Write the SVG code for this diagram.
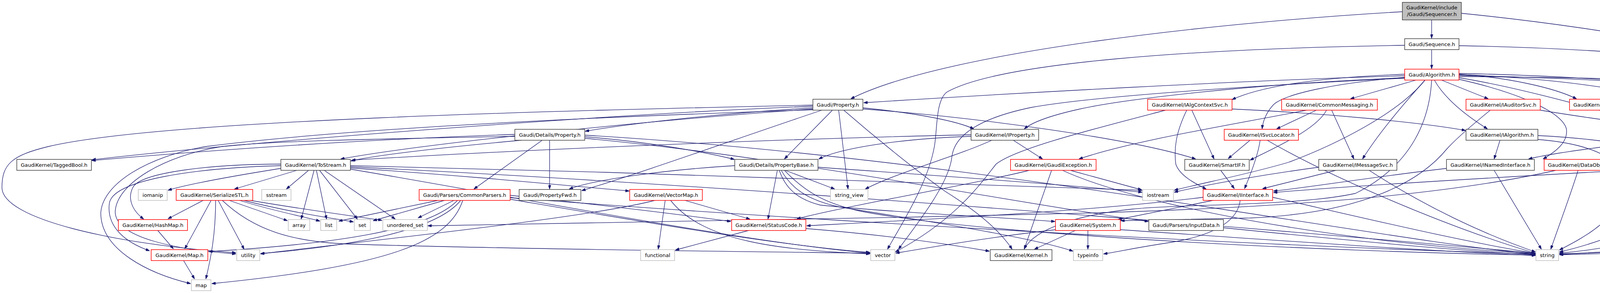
<svg xmlns="http://www.w3.org/2000/svg" width="4839" height="750" viewBox="0 0 4839 750">
<defs>
<marker id="a" viewBox="0 0 10 7" refX="10" refY="3.5" markerWidth="10" markerHeight="7" markerUnits="userSpaceOnUse" orient="auto"><path d="M0,0 L10,3.5 L0,7 z" fill="#191970" stroke="#191970"/></marker>
<style>
.n rect{fill:#fff;stroke:#404040;stroke-width:1.5}
.n.r rect{stroke:#ff0000}
.n.g rect{stroke:#bfbfbf}
.n.root rect{fill:#bfbfbf;stroke:#404040}
text{font-family:"DejaVu Sans","Liberation Sans",sans-serif;font-size:13px;text-anchor:middle;fill:#000}
#edges path{fill:none;stroke:#191970;stroke-width:1.3;marker-end:url(#a)}
</style>
</defs>
<rect width="4839" height="750" fill="#fff"/>
<g id="edges">
<path d="M3665,51 L3665,98"/>
<path d="M3590,30 C3150,55 2420,130 2178,253"/>
<path d="M3741,34 C4150,75 4620,160 4700,240 C4740,290 4725,350 4690,380 C4650,420 4610,450 4578,484"/>
<path d="M3665,128 L3665,176"/>
<path d="M3596,116 C3050,125 2560,160 2425,235 C2395,255 2400,330 2392,375 C2375,470 2310,570 2272,638"/>
<path d="M3735,117 C4250,125 4720,185 4815,250 C4840,275 4833,380 4833,505 C4833,560 4770,585 4690,600 C4490,635 4200,648 3992,652"/>
<path d="M3596,194 C3200,205 2600,238 2211,263"/>
<path d="M3596,199 C3200,215 2870,255 2760,280 C2680,298 2640,315 2622,330"/>
<path d="M3596,200 C3100,225 2780,250 2640,275 C2520,300 2445,340 2437,400 C2430,470 2350,570 2300,638"/>
<path d="M3596,190 C3380,198 3230,220 3154,255"/>
<path d="M3625,205 L3457,253"/>
<path d="M3597,198 C3420,212 3290,240 3260,268 C3240,290 3233,310 3231,330"/>
<path d="M3690,205 L3810,253"/>
<path d="M3672,205 C3700,255 3760,300 3808,330"/>
<path d="M3648,205 C3590,270 3530,340 3488,407"/>
<path d="M3648,205 C3580,290 3420,370 3300,415 C3200,445 3080,468 3006,487"/>
<path d="M3665,205 C3660,300 3620,420 3470,495 C3320,528 3020,522 2900,535 C2760,550 2650,585 2622,637"/>
<path d="M3735,190 C3860,198 3980,225 4036,253"/>
<path d="M3735,191 C3980,200 4170,230 4255,254"/>
<path d="M3735,188 C4100,195 4400,225 4530,256"/>
<path d="M3735,193 C4150,203 4430,222 4470,255 C4500,290 4480,360 4430,407"/>
<path d="M3735,196 C4300,200 4700,215 4760,255 C4785,290 4781,400 4781,500 C4780,545 4720,570 4640,587 C4440,625 4150,645 3992,650"/>
<path d="M3735,199 C3900,225 4120,290 4283,333"/>
<path d="M3735,203 C3900,240 4000,290 4010,330 C4015,365 3980,390 3950,407"/>
<path d="M2081,276 C1850,290 1620,315 1498,336"/>
<path d="M2081,272 C1500,295 620,365 235,409"/>
<path d="M2081,279 C1700,305 1100,365 872,407"/>
<path d="M2081,269 C1500,282 420,305 124,375 C30,398 5,420 5,480 C5,560 290,625 604,647"/>
<path d="M2081,281 C1500,300 880,330 527,375 C380,400 262,470 258,545 C258,640 380,700 488,726"/>
<path d="M2131,282 L2008,407"/>
<path d="M2147,282 L2171,484"/>
<path d="M2104,282 C1900,350 1650,440 1489,488"/>
<path d="M2160,282 C2250,360 2350,440 2420,490 C2500,540 2560,590 2591,638"/>
<path d="M2209,276 C2350,290 2450,310 2493,330"/>
<path d="M2209,279 C2500,300 2900,355 3061,407"/>
<path d="M1318,344 C900,358 500,388 235,411"/>
<path d="M1335,359 C1100,380 950,400 898,412"/>
<path d="M1388,359 L1213,484"/>
<path d="M1407,359 L1407,484"/>
<path d="M1497,350 C1650,362 1800,388 1880,408"/>
<path d="M1497,354 C2000,400 2600,520 2940,567"/>
<path d="M1318,349 C1000,355 700,360 568,375 C420,398 300,470 295,540 C292,610 460,640 604,650"/>
<path d="M1497,346 C2500,405 3500,610 3931,651"/>
<path d="M719,431 C600,450 480,472 430,487"/>
<path d="M760,436 L600,484"/>
<path d="M790,436 L733,484"/>
<path d="M804,436 L771,561"/>
<path d="M810,436 L836,561"/>
<path d="M818,436 L915,561"/>
<path d="M830,436 L1012,561"/>
<path d="M719,420 C550,420 360,440 340,480 C325,510 340,540 368,561"/>
<path d="M719,424 C500,430 290,460 280,520 C272,580 320,620 383,642"/>
<path d="M897,430 C1200,450 1450,475 1611,489"/>
<path d="M897,424 C1600,440 2500,470 2924,487"/>
<path d="M897,433 C1300,500 1900,620 2228,648"/>
<path d="M897,427 C2000,480 3400,600 3931,648"/>
<path d="M1990,436 L1966,561"/>
<path d="M2010,436 L2137,484"/>
<path d="M1881,424 C1700,435 1520,460 1457,484"/>
<path d="M1995,436 C2010,480 2040,510 2100,525 C2300,545 2550,555 2701,567"/>
<path d="M2000,436 C2030,490 2080,515 2150,530 C2400,570 2650,610 2747,643"/>
<path d="M2008,436 C2060,490 2110,520 2200,540 C2500,600 3400,645 3931,653"/>
<path d="M2094,428 C2400,450 2700,470 2924,492"/>
<path d="M2692,436 L2622,638"/>
<path d="M2740,436 L2923,486"/>
<path d="M2635,436 C2500,470 2200,520 2040,560"/>
<path d="M2720,436 C2900,520 3400,620 3931,649"/>
<path d="M3125,436 L3160,483"/>
<path d="M3420,436 L3232,483"/>
<path d="M3505,436 C3650,530 3800,600 3931,645"/>
<path d="M3376,428 C3250,445 3100,470 3006,492"/>
<path d="M3703,431 C3500,455 3350,480 3260,489"/>
<path d="M3825,436 L3946,638"/>
<path d="M4040,436 C4020,500 3990,580 3970,638"/>
<path d="M4128,436 L4519,492"/>
<path d="M3983,436 C3700,500 3300,530 2800,545 C2200,560 1500,572 1095,578"/>
<path d="M4311,428 C3800,455 3400,480 3260,493"/>
<path d="M4393,436 C4330,520 4150,610 3992,645"/>
<path d="M4293,353 C4100,375 3960,395 3913,407"/>
<path d="M4380,359 L4393,407"/>
<path d="M4440,359 C4490,390 4510,420 4500,480 C4470,560 4200,630 3992,648"/>
<path d="M4360,282 L4372,330"/>
<path d="M4420,282 C4550,320 4700,330 4722,400 C4730,470 4700,530 4650,560 C4450,620 4150,645 3992,651"/>
<path d="M4170,282 L4324,330"/>
<path d="M4225,282 C4420,320 4560,360 4600,440 C4620,520 4500,580 4400,610 C4250,640 4100,648 3992,650"/>
<path d="M3943,282 C4050,300 4200,320 4283,331"/>
<path d="M3815,282 C3775,315 3735,348 3705,380 C3640,460 3500,545 3200,558 L2869,565"/>
<path d="M3840,359 L3825,407"/>
<path d="M3937,347 C4100,355 4250,380 4310,407"/>
<path d="M3937,357 C4100,370 4160,420 4160,470 C4150,560 4050,610 3992,640"/>
<path d="M3200,359 L3144,406"/>
<path d="M3226,359 C3220,400 3200,450 3186,483"/>
<path d="M3244,359 C3400,450 3700,580 3930,648"/>
<path d="M3370,282 L3268,330"/>
<path d="M3409,282 L3466,407"/>
<path d="M3396,282 C3370,330 3280,370 3200,410"/>
<path d="M3345,282 C3150,320 2900,360 2762,407"/>
<path d="M3051,282 L3108,407"/>
<path d="M2984,282 C2800,330 2600,380 2550,420 C2510,470 2450,560 2292,645"/>
<path d="M3038,282 C3010,340 3005,380 3010,420 C3020,450 3060,470 3088,484"/>
<path d="M3154,279 C3400,290 3650,315 3752,334"/>
<path d="M2594,359 L2669,407"/>
<path d="M2539,359 C2450,400 2300,440 2215,484"/>
<path d="M2486,345 C2000,355 1300,385 900,410"/>
<path d="M2486,349 C2300,355 2150,380 2096,407"/>
<path d="M3080,505 C2800,540 2400,560 2065,578"/>
<path d="M3110,512 L2862,562"/>
<path d="M3175,512 C3170,560 3120,600 3000,620 C2900,635 2860,645 2825,650"/>
<path d="M3258,505 C3500,560 3750,620 3930,648"/>
<path d="M2755,589 L2648,638"/>
<path d="M2785,589 L2785,638"/>
<path d="M2868,588 C3200,610 3600,640 3931,654"/>
<path d="M2702,588 C2550,605 2400,630 2293,648"/>
<path d="M1920,589 L1729,640"/>
<path d="M2063,585 C2250,600 2400,620 2533,643"/>
<path d="M3132,583 C3400,610 3700,640 3931,652"/>
<path d="M1703,512 L1685,638"/>
<path d="M1716,512 C1800,620 2000,640 2227,650"/>
<path d="M1750,512 L1920,561"/>
<path d="M1680,512 C1500,560 900,620 667,650"/>
<path d="M1126,512 L867,566"/>
<path d="M1141,512 L955,565"/>
<path d="M1164,512 L1070,558"/>
<path d="M1172,512 C1100,590 850,625 534,644"/>
<path d="M1185,512 C1150,620 1000,680 542,726"/>
<path d="M1180,512 C1120,590 900,630 667,649"/>
<path d="M1306,500 C1500,520 1750,550 1871,567"/>
<path d="M1306,510 C1600,560 2000,630 2227,646"/>
<path d="M1306,506 C2000,560 3200,630 3931,650"/>
<path d="M522,512 L430,560"/>
<path d="M541,512 L473,637"/>
<path d="M552,512 C552,600 540,660 527,714"/>
<path d="M558,512 L625,638"/>
<path d="M584,512 L736,565"/>
<path d="M610,512 C700,540 780,555 819,566"/>
<path d="M620,512 C750,545 860,560 905,568"/>
<path d="M635,512 C800,540 920,555 978,564"/>
<path d="M568,512 C650,590 750,620 900,625 C1400,640 2000,645 2227,648"/>
<path d="M403,589 L444,637"/>
<path d="M470,667 L498,714"/>
</g>
<g id="seqr" class="n root"><rect x="3590" y="6" width="151" height="45"/><text x="3665.5" y="24">GaudiKernel/include</text><text x="3665.5" y="41">/Gaudi/Sequencer.h</text></g>
<g id="seq" class="n"><rect x="3596" y="99" width="139" height="28"/><text x="3665.5" y="117.5">Gaudi/Sequence.h</text></g>
<g id="alg" class="n r"><rect x="3596" y="177" width="139" height="28"/><text x="3665.5" y="195.5">Gaudi/Algorithm.h</text></g>
<g id="prop" class="n"><rect x="2081" y="254" width="128" height="28"/><text x="2145" y="272.5">Gaudi/Property.h</text></g>
<g id="iacs" class="n r"><rect x="2938" y="254" width="216" height="28"/><text x="3046" y="272.5">GaudiKernel/IAlgContextSvc.h</text></g>
<g id="cmsg" class="n r"><rect x="3281" y="254" width="245" height="28"/><text x="3403.5" y="272.5">GaudiKernel/CommonMessaging.h</text></g>
<g id="iaud" class="n r"><rect x="3753" y="254" width="190" height="28"/><text x="3848" y="272.5">GaudiKernel/IAuditorSvc.h</text></g>
<g id="ichr" class="n r"><rect x="4018" y="254" width="215" height="28"/><text x="4125.5" y="272.5">GaudiKernel/IChronoStatSvc.h</text></g>
<g id="itml" class="n r"><rect x="4257" y="254" width="200" height="28"/><text x="4357" y="272.5">GaudiKernel/ITimelineSvc.h</text></g>
<g id="plug" class="n r"><rect x="4531" y="254" width="164" height="28"/><text x="4613" y="272.5">Gaudi/PluginService.h</text></g>
<g id="dprop" class="n"><rect x="1318" y="331" width="179" height="28"/><text x="1407.5" y="349.5">Gaudi/Details/Property.h</text></g>
<g id="iprop" class="n"><rect x="2486" y="331" width="173" height="28"/><text x="2572.5" y="349.5">GaudiKernel/IProperty.h</text></g>
<g id="isvc" class="n r"><rect x="3134" y="331" width="190" height="28"/><text x="3229" y="349.5">GaudiKernel/ISvcLocator.h</text></g>
<g id="ialg" class="n"><rect x="3753" y="331" width="184" height="28"/><text x="3845" y="349.5">GaudiKernel/IAlgorithm.h</text></g>
<g id="iserv" class="n"><rect x="4293" y="331" width="168" height="28"/><text x="4377" y="349.5">GaudiKernel/IService.h</text></g>
<g id="tbool" class="n"><rect x="43" y="408" width="191" height="28"/><text x="138.5" y="426.5">GaudiKernel/TaggedBool.h</text></g>
<g id="tostr" class="n"><rect x="719" y="408" width="178" height="28"/><text x="808" y="426.5">GaudiKernel/ToStream.h</text></g>
<g id="pbase" class="n"><rect x="1881" y="408" width="213" height="28"/><text x="1987.5" y="426.5">Gaudi/Details/PropertyBase.h</text></g>
<g id="gexc" class="n r"><rect x="2587" y="408" width="219" height="28"/><text x="2696.5" y="426.5">GaudiKernel/GaudiException.h</text></g>
<g id="smart" class="n"><rect x="3033" y="408" width="165" height="28"/><text x="3115.5" y="426.5">GaudiKernel/SmartIF.h</text></g>
<g id="imsg" class="n"><rect x="3376" y="408" width="200" height="28"/><text x="3476" y="426.5">GaudiKernel/IMessageSvc.h</text></g>
<g id="inamed" class="n"><rect x="3703" y="408" width="225" height="28"/><text x="3815.5" y="426.5">GaudiKernel/INamedInterface.h</text></g>
<g id="dobj" class="n r"><rect x="3953" y="408" width="182" height="28"/><text x="4044" y="426.5">GaudiKernel/DataObjID.h</text></g>
<g id="istate" class="n r"><rect x="4311" y="408" width="172" height="28"/><text x="4397" y="426.5">GaudiKernel/IStateful.h</text></g>
<g id="iomanip" class="n g"><rect x="354" y="485" width="74" height="28"/><text x="391" y="503.5">iomanip</text></g>
<g id="sstl" class="n r"><rect x="451" y="485" width="196" height="28"/><text x="549" y="503.5">GaudiKernel/SerializeSTL.h</text></g>
<g id="sstream" class="n g"><rect x="670" y="485" width="75" height="28"/><text x="707.5" y="503.5">sstream</text></g>
<g id="cpars" class="n r"><rect x="1073" y="485" width="233" height="28"/><text x="1189.5" y="503.5">Gaudi/Parsers/CommonParsers.h</text></g>
<g id="pfwd" class="n"><rect x="1329" y="485" width="158" height="28"/><text x="1408" y="503.5">Gaudi/PropertyFwd.h</text></g>
<g id="vmap" class="n r"><rect x="1612" y="485" width="186" height="28"/><text x="1705" y="503.5">GaudiKernel/VectorMap.h</text></g>
<g id="sview" class="n g"><rect x="2126" y="485" width="96" height="28"/><text x="2174" y="503.5">string_view</text></g>
<g id="iostr" class="n g"><rect x="2925" y="485" width="79" height="28"/><text x="2964.5" y="503.5">iostream</text></g>
<g id="iint" class="n r"><rect x="3080" y="485" width="178" height="28"/><text x="3169" y="503.5">GaudiKernel/IInterface.h</text></g>
<g id="mutex" class="n g"><rect x="4521" y="485" width="62" height="28"/><text x="4552" y="503.5">mutex</text></g>
<g id="hmap" class="n r"><rect x="303" y="562" width="177" height="28"/><text x="391.5" y="580.5">GaudiKernel/HashMap.h</text></g>
<g id="array" class="n g"><rect x="738" y="562" width="55" height="28"/><text x="765.5" y="580.5">array</text></g>
<g id="list" class="n g"><rect x="821" y="562" width="41" height="28"/><text x="841.5" y="580.5">list</text></g>
<g id="set" class="n g"><rect x="907" y="562" width="41" height="28"/><text x="927.5" y="580.5">set</text></g>
<g id="uset" class="n g"><rect x="980" y="562" width="114" height="28"/><text x="1037" y="580.5">unordered_set</text></g>
<g id="scode" class="n r"><rect x="1873" y="562" width="190" height="28"/><text x="1968" y="580.5">GaudiKernel/StatusCode.h</text></g>
<g id="sys" class="n r"><rect x="2702" y="562" width="166" height="28"/><text x="2785" y="580.5">GaudiKernel/System.h</text></g>
<g id="input" class="n"><rect x="2941" y="562" width="191" height="28"/><text x="3036.5" y="580.5">Gaudi/Parsers/InputData.h</text></g>
<g id="gmap" class="n r"><rect x="387" y="639" width="145" height="28"/><text x="459.5" y="657.5">GaudiKernel/Map.h</text></g>
<g id="utility" class="n g"><rect x="606" y="639" width="59" height="28"/><text x="635.5" y="657.5">utility</text></g>
<g id="functional" class="n g"><rect x="1640" y="639" width="87" height="28"/><text x="1683.5" y="657.5">functional</text></g>
<g id="vector" class="n g"><rect x="2229" y="639" width="62" height="28"/><text x="2260" y="657.5">vector</text></g>
<g id="kernel" class="n"><rect x="2535" y="639" width="158" height="28"/><text x="2614" y="657.5">GaudiKernel/Kernel.h</text></g>
<g id="typeinfo" class="n g"><rect x="2748" y="639" width="75" height="28"/><text x="2785.5" y="657.5">typeinfo</text></g>
<g id="string" class="n g"><rect x="3932" y="639" width="58" height="28"/><text x="3961" y="657.5">string</text></g>
<g id="map" class="n g"><rect x="490" y="716" width="50" height="28"/><text x="515" y="734.5">map</text></g>
</svg>
